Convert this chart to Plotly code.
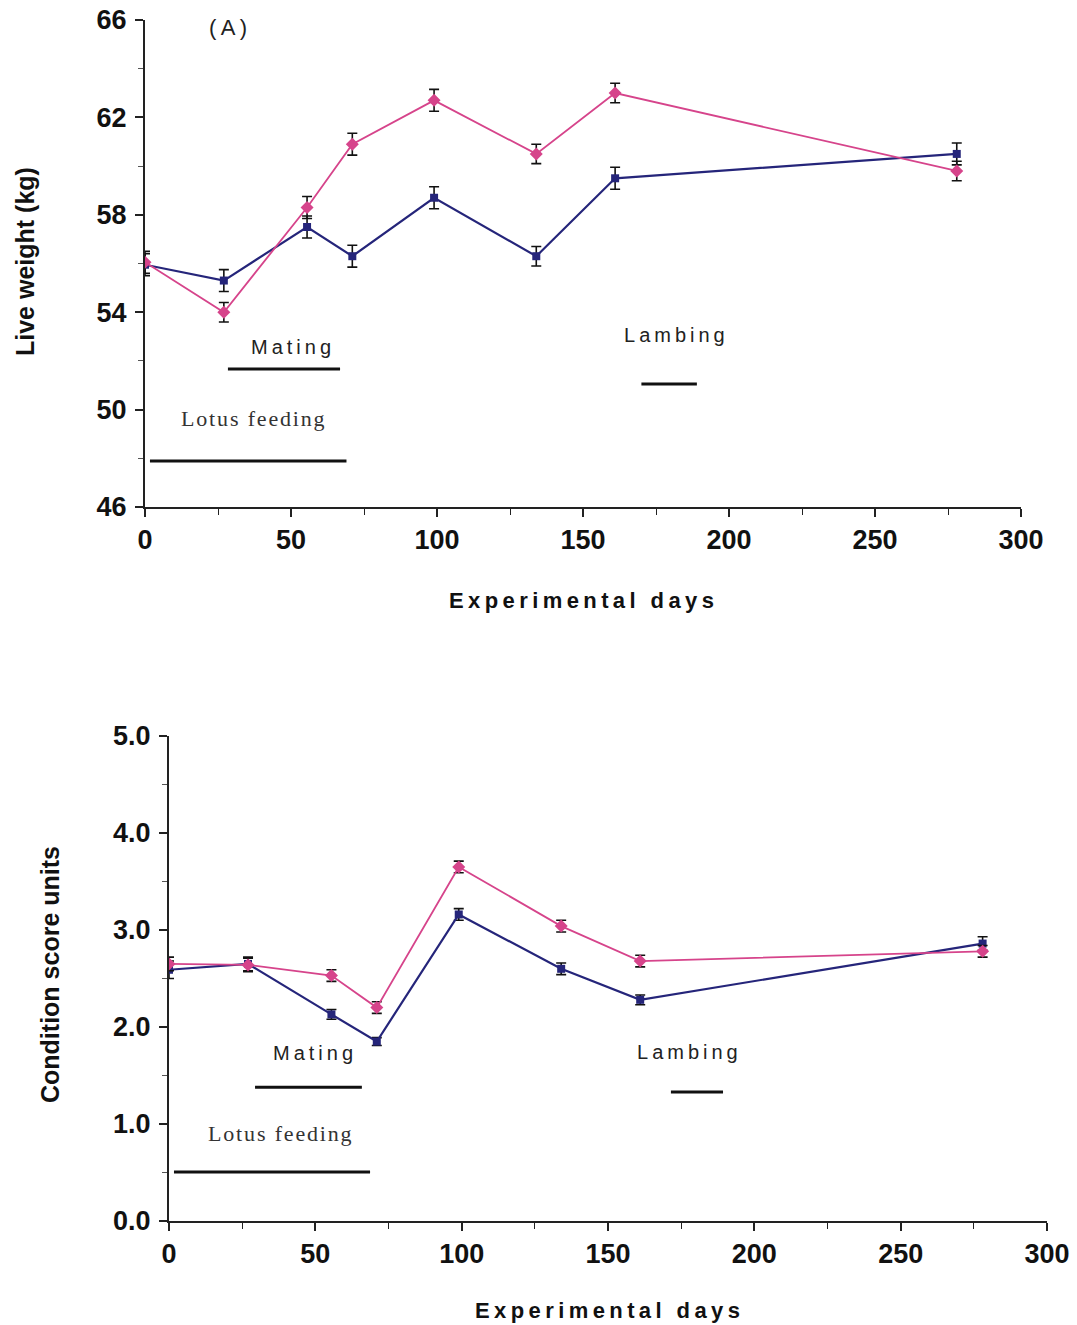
import plotly.graph_objects as go

# Experimental days at each weighing / scoring
days = [0, 27, 55.5, 71, 99, 134, 161, 278]

# (A) Live weight, kg
weight_lotus = [56.05, 54.0, 58.3, 60.9, 62.7, 60.5, 63.0, 59.8]
weight_lotus_se = [0.45, 0.4, 0.45, 0.45, 0.45, 0.4, 0.4, 0.4]
weight_control = [55.95, 55.3, 57.5, 56.3, 58.7, 56.3, 59.5, 60.5]
weight_control_se = [0.45, 0.45, 0.45, 0.45, 0.45, 0.4, 0.45, 0.45]

# (B) Condition score units
cs_lotus = [2.65, 2.64, 2.53, 2.20, 3.65, 3.04, 2.68, 2.78]
cs_lotus_se = [0.07, 0.07, 0.06, 0.06, 0.06, 0.06, 0.06, 0.06]
cs_control = [2.59, 2.65, 2.13, 1.85, 3.16, 2.60, 2.28, 2.86]
cs_control_se = [0.09, 0.07, 0.05, 0.04, 0.06, 0.06, 0.05, 0.07]

x_ticks = [0, 50, 100, 150, 200, 250, 300]
w_ticks = [46, 50, 54, 58, 62, 66]
cs_ticks = [0.0, 1.0, 2.0, 3.0, 4.0, 5.0]

PINK = "#d6448b"
NAVY = "#25257a"
W, H = 1077, 1325


def spaced(s, gap="\u2009"):
    return gap.join(s)


fig = go.Figure()


def add_series(x, y, err, color, symbol, size, width, xa, ya):
    fig.add_trace(go.Scatter(
        x=x, y=y, xaxis=xa, yaxis=ya, mode="lines+markers",
        line=dict(color=color, width=width),
        marker=dict(symbol=symbol, size=size, color=color),
        error_y=dict(type="data", array=err, visible=True, color="#111111",
                     thickness=1.6, width=5),
        showlegend=False,
    ))


add_series(days, weight_control, weight_control_se, NAVY, "square", 8, 2.2, "x", "y")
add_series(days, weight_lotus, weight_lotus_se, PINK, "diamond", 10, 1.8, "x", "y")
add_series(days, cs_control, cs_control_se, NAVY, "square", 8, 2.2, "x2", "y2")
add_series(days, cs_lotus, cs_lotus_se, PINK, "diamond", 10, 1.8, "x2", "y2")

tickfont = dict(family="Liberation Sans Narrow, Arial Narrow, Liberation Sans", size=27,
                color="#111111", weight="bold")


def xaxis(domain, anchor):
    return dict(domain=domain, anchor=anchor, range=[0, 300], tickvals=x_ticks,
                ticks="outside", ticklen=8, tickwidth=1.5, tickcolor="#222",
                showline=True, linecolor="#222", linewidth=2, showgrid=False,
                zeroline=False, tickfont=tickfont, automargin=False,
                minor=dict(dtick=25, tick0=0, ticks="outside", ticklen=6,
                           tickwidth=1.2, tickcolor="#222"))


def yaxis(domain, anchor, rng, vals, fmt, minor_step):
    return dict(domain=domain, anchor=anchor, range=rng, tickvals=vals,
                tickformat=fmt, ticks="outside", ticklen=8, tickwidth=1.5,
                tickcolor="#222", showline=True, linecolor="#222", linewidth=2,
                showgrid=False, zeroline=False, tickfont=tickfont, automargin=False,
                ticklabelstandoff=3,
                minor=dict(dtick=minor_step, tick0=rng[0], ticks="outside",
                           ticklen=5, tickwidth=1.2, tickcolor="#555"))


fig.update_layout(
    width=W, height=H, margin=dict(l=0, r=0, t=0, b=0, autoexpand=False),
    paper_bgcolor="white", plot_bgcolor="white",
    xaxis=xaxis([145 / W, 1021 / W], "y"),
    yaxis=yaxis([(H - 507) / H, (H - 20) / H], "x", [46, 66], w_ticks, "d", 2),
    xaxis2=xaxis([169 / W, 1047 / W], "y2"),
    yaxis2=yaxis([(H - 1221) / H, (H - 736) / H], "x2", [0, 5], cs_ticks, ".1f", 0.5),
)

# period bars: (x0, x1, y) in data units
bars_a = [(28.4, 66.8, 51.67), (1.7, 69.0, 47.89), (170.0, 189.0, 51.05)]
bars_b = [(29.4, 65.9, 1.38), (1.7, 68.7, 0.505), (171.5, 189.3, 1.33)]
for (x0, x1, y) in bars_a:
    fig.add_shape(type="line", xref="x", yref="y", x0=x0, x1=x1, y0=y, y1=y,
                  line=dict(color="#111", width=3))
for (x0, x1, y) in bars_b:
    fig.add_shape(type="line", xref="x2", yref="y2", x0=x0, x1=x1, y0=y, y1=y,
                  line=dict(color="#111", width=3))

sans = dict(family="Liberation Sans, Arial", size=20, color="#222")
panel = dict(family="Liberation Sans, Arial", size=22, color="#222")
serif = dict(family="Liberation Serif, Times New Roman", size=22, color="#333")


def label(text, x, y, xr, yr, font):
    fig.add_annotation(text=text, x=x, y=y, xref=xr, yref=yr, showarrow=False,
                       font=font, xanchor="center", yanchor="middle")


label(spaced("(A)"), 28.5, 65.7, "x", "y", panel)
label(spaced("Mating"), 50.0, 52.57, "x", "y", sans)
label(spaced("Lotus feeding", "\u200a"), 37.0, 49.65, "x", "y", serif)
label(spaced("Lambing"), 181.5, 53.06, "x", "y", sans)

label(spaced("(B)"), 31.4, 5.03, "x2", "y2", panel)
label(spaced("Mating"), 49.2, 1.73, "x2", "y2", sans)
label(spaced("Lotus feeding", "\u200a"), 37.9, 0.90, "x2", "y2", serif)
label(spaced("Lambing"), 177.3, 1.74, "x2", "y2", sans)

title_font = dict(family="Liberation Sans, Arial", size=22, color="#111", weight="bold")
ytitle_font = dict(family="Liberation Sans, Arial", size=25, color="#111", weight="bold")
for text, x, y, angle, font in [
    (spaced("Experimental days"), 582, 600, 0, title_font),
    (spaced("Experimental days"), 607, 1310, 0, title_font),
    ("Live weight (kg)", 25, 262, -90, ytitle_font),
    ("Condition score units", 50, 975, -90, ytitle_font),
]:
    fig.add_annotation(text=text, x=x / W, y=(H - y) / H, xref="paper", yref="paper",
                       showarrow=False, textangle=angle, font=font,
                       xanchor="center", yanchor="middle")

fig.write_html("out.html")
